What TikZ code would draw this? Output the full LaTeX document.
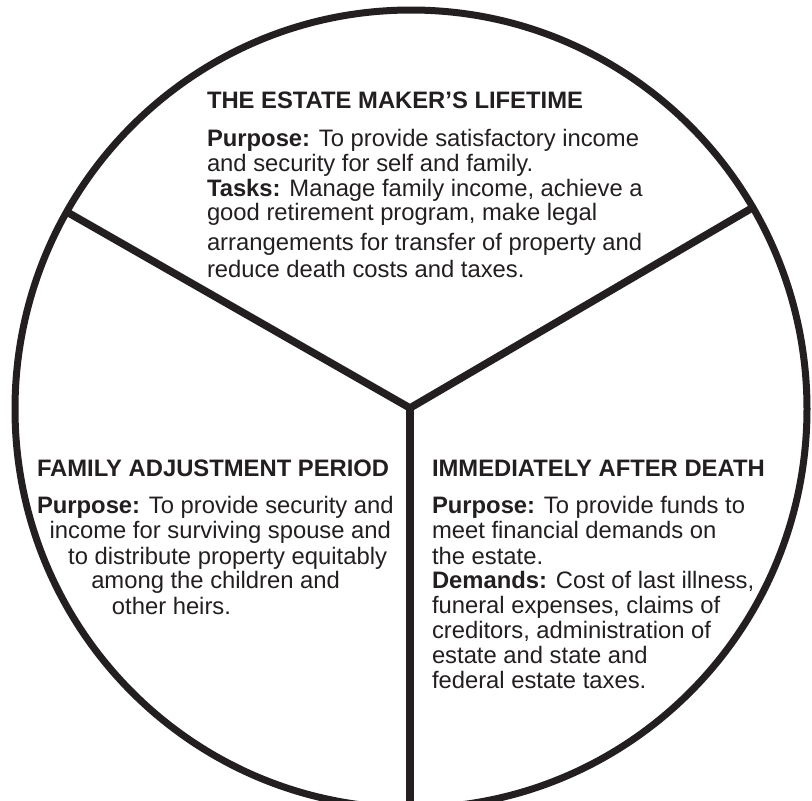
\documentclass[tikz,border=0pt]{standalone}
\usepackage{fontspec}
\setmainfont{Liberation Sans}
\definecolor{ink}{HTML}{231F20}
\begin{document}
\begin{tikzpicture}[x=1pt,y=-1pt,
  rim/.style={draw=ink,line width=7pt},
  divider/.style={draw=ink,line width=7.5pt},
  txt/.style={anchor=base west,inner sep=0pt,outer sep=0pt,text=ink,font=\fontsize{23.8}{26}\selectfont},
  txtr/.style={txt,anchor=base east}]
\useasboundingbox (0,0) rectangle (812,801);
\clip (0,0) rectangle (812,801);
\fill[white] (0,0) rectangle (812,801);
\coordinate (C) at (410,408);
\coordinate (L) at (67,212);
\coordinate (R) at (752,208);
\coordinate (B) at (410,820);
\draw[rim] (411,409) ellipse [x radius=396, y radius=399];
\draw[divider,line join=miter] (L) -- (C) -- (R);
\draw[divider] (C) -- (B);
% top section
\node[txt] (t0) at (207,108) {\textbf{THE ESTATE MAKER'S LIFETIME}};
\node[txt] (t1) at (207,146) {\textbf{Purpose:} To provide satisfactory income};
\node[txt] (t2) at (207,171) {and security for self and family.};
\node[txt] (t3) at (207,196) {\textbf{Tasks:} Manage family income, achieve a};
\node[txt] (t4) at (207,220) {good retirement program, make legal};
\node[txt] (t5) at (207,250) {arrangements for transfer of property and};
\node[txt] (t6) at (207,277) {reduce death costs and taxes.};
% left section
\node[txt] (l0) at (37,476) {\textbf{FAMILY ADJUSTMENT PERIOD}};
\node[txt] (l1) at (37,513) {\textbf{Purpose:} To provide security and};
\node[txtr] (l2) at (391,538) {income for surviving spouse and};
\node[txtr] (l3) at (387,564) {to distribute property equitably};
\node[txtr] (l4) at (340,588) {among the children and};
\node[txtr] (l5) at (231,614) {other heirs.};
% right section
\node[txt] (r0) at (432,476) {\textbf{IMMEDIATELY AFTER DEATH}};
\node[txt] (r1) at (432,513) {\textbf{Purpose:} To provide funds to};
\node[txt] (r2) at (432,538) {meet financial demands on};
\node[txt] (r3) at (432,564) {the estate.};
\node[txt] (r4) at (432,588) {\textbf{Demands:} Cost of last illness,};
\node[txt] (r5) at (432,613) {funeral expenses, claims of};
\node[txt] (r6) at (432,638) {creditors, administration of};
\node[txt] (r7) at (432,663) {estate and state and};
\node[txt] (r8) at (432,688) {federal estate taxes.};
\end{tikzpicture}
\end{document}
